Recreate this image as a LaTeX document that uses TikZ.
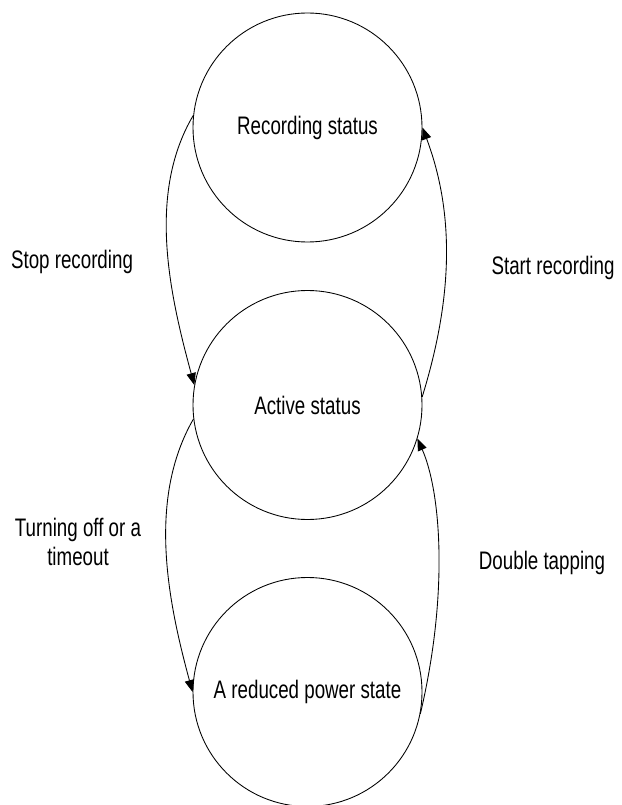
\documentclass[tikz,border=0pt]{standalone}
\usepackage{fontspec}
\setmainfont{Liberation Sans}[FakeStretch=0.74]
\usetikzlibrary{arrows.meta}
\begin{document}
\begin{tikzpicture}[
    x=0.75pt, y=-0.75pt,
    every node/.style={font=\fontsize{19}{21.75}\selectfont},
    statenode/.style={draw, circle, minimum size=171.75pt, inner sep=0pt, line width=0.65pt},
    edgelabel/.style={align=center, inner sep=0pt},
    transition/.style={draw, line width=0.65pt, -{Triangle[length=9pt,width=7pt]}}
]
\useasboundingbox (0,0) rectangle (621,805);
% states
\node[statenode] (rec) at (307.5,127.5) {Recording status};
\node[statenode] (act) at (307.5,405) {Active status};
\node[statenode] (low) at (307.5,692) {A reduced power state};
% transitions
\draw[transition] (rec.174) .. controls +(-46,78) and +(-25,-92) .. (act.170);
\draw[transition] (act.4) .. controls +(30,-97) and +(33,88) .. (rec.0);
\draw[transition] (act.187) .. controls +(-46,80) and +(-25,-92) .. (low.180);
\draw[transition] (low.-11) .. controls +(29,-123) and +(23,52) .. (act.-17);
% labels
\node[edgelabel] (stoplbl) at (72,262) {Stop recording};
\node[edgelabel] (startlbl) at (553,268) {Start recording};
\node[edgelabel] (offlbl) at (78,542) {Turning off or a\\timeout};
\node[edgelabel] (taplbl) at (542,563) {Double tapping};
\end{tikzpicture}
\end{document}
